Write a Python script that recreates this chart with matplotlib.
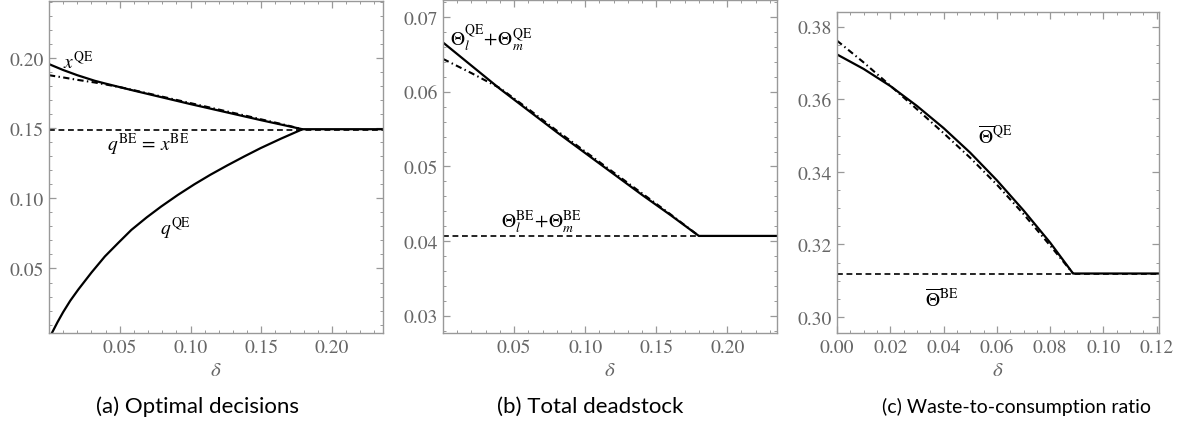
import matplotlib.pyplot as plt
from matplotlib.font_manager import FontProperties
from matplotlib.ticker import MultipleLocator, FormatStrFormatter

# ---- data ----
# (a) optimal decisions
a_delta_x = [0.0, 0.01, 0.02, 0.0324, 0.04, 0.05, 0.06, 0.07, 0.08, 0.09, 0.10, 0.11,
             0.12, 0.13, 0.14, 0.15, 0.16, 0.17, 0.179, 0.236]
a_xqe = [0.1957, 0.1915, 0.1878, 0.1838, 0.1818, 0.1793, 0.1768, 0.1744, 0.1720, 0.1696,
         0.1672, 0.1649, 0.1626, 0.1603, 0.1580, 0.1557, 0.1535, 0.1513, 0.1493, 0.1493]
a_delta_xd = [0.0, 0.01, 0.02, 0.0324, 0.04, 0.05, 0.06, 0.07, 0.08, 0.09, 0.10, 0.11,
              0.12, 0.13, 0.14, 0.15, 0.16, 0.17, 0.179]
a_xqe_approx = [0.1878, 0.1862, 0.1845, 0.1826, 0.1812, 0.1793, 0.1771, 0.1748, 0.1725,
                0.1702, 0.1679, 0.1656, 0.1633, 0.1610, 0.1587, 0.1563, 0.1540, 0.1516, 0.1493]
a_delta_q = [0.0, 0.0021, 0.006, 0.010, 0.015, 0.0207, 0.030, 0.0395, 0.049, 0.0582, 0.069,
             0.0793, 0.091, 0.1027, 0.114, 0.126, 0.138, 0.1495, 0.164, 0.1787]
a_qqe = [0.0000, 0.0041, 0.0117, 0.0189, 0.0270, 0.0350, 0.0471, 0.0586, 0.0683, 0.0775,
         0.0864, 0.0942, 0.1024, 0.1100, 0.1168, 0.1235, 0.1299, 0.1358, 0.1426, 0.1491]
a_qbe = 0.149

# (b) total deadstock
b_delta = [0.0, 0.02, 0.04, 0.06, 0.08, 0.10, 0.12, 0.14, 0.16, 0.18, 0.236]
b_qe = [0.0666, 0.0635, 0.0604, 0.0575, 0.0546, 0.0518, 0.0490, 0.0462, 0.0435, 0.0407, 0.0407]
b_delta_d = [0.0, 0.02, 0.04, 0.06, 0.08, 0.10, 0.12, 0.14, 0.16, 0.18]
b_qe_approx = [0.0644, 0.0625, 0.0605, 0.0577, 0.0548, 0.0520, 0.0492, 0.0464, 0.0436, 0.0407]
b_be = 0.0407

# (c) waste-to-consumption ratio
c_delta = [0.0, 0.01, 0.02, 0.03, 0.04, 0.05, 0.06, 0.07, 0.08, 0.0886, 0.1215]
c_qe = [0.3724, 0.3684, 0.3637, 0.3582, 0.3521, 0.3453, 0.3377, 0.3294, 0.3205, 0.3120, 0.3120]
c_delta_d = [0.0, 0.01, 0.02, 0.03, 0.04, 0.05, 0.06, 0.07, 0.08, 0.0886]
c_qe_approx = [0.3762, 0.3702, 0.3638, 0.3573, 0.3507, 0.3439, 0.3365, 0.3284, 0.3197, 0.3120]
c_be = 0.3120

captions = ['(a) Optimal decisions', '(b) Total deadstock', '(c) Waste-to-consumption ratio']

# STIX ships with matplotlib, a Times-like face for the tick numbers
plt.rcParams['font.family'] = 'STIXGeneral'
plt.rcParams['mathtext.fontset'] = 'stix'
gray = '#666666'
frame = '#999999'

fig = plt.figure(figsize=(11.78, 4.27), dpi=100)
ax_a = fig.add_axes([0.0416, 0.2178, 0.2835, 0.7775])
ax_b = fig.add_axes([0.3761, 0.2178, 0.2835, 0.7800])
ax_c = fig.add_axes([0.7105, 0.2178, 0.2733, 0.7518])

solid = dict(color='black', lw=1.6, solid_joinstyle='round')
dashed = dict(color='black', lw=1.2, linestyle=(0, (3.5, 2.2)))
dashdot = dict(color='black', lw=1.5, linestyle=(0, (3, 1.6, 0.7, 1.6)))

# (a)
ax_a.axhline(a_qbe, **dashed)
ax_a.plot(a_delta_xd, a_xqe_approx, **dashdot)
ax_a.plot(a_delta_x, a_xqe, **solid)
ax_a.plot(a_delta_q, a_qqe, **solid)
ax_a.set_xlim(0, 0.236)
ax_a.set_ylim(0.004, 0.2407)
ax_a.set_xticks([0.05, 0.10, 0.15, 0.20])
ax_a.xaxis.set_minor_locator(MultipleLocator(0.01))
ax_a.yaxis.set_major_locator(MultipleLocator(0.05))
ax_a.yaxis.set_minor_locator(MultipleLocator(0.01))
ax_a.text(0.010, 0.193, r'$x^{\mathrm{QE}}$', fontsize=14)
ax_a.text(0.0697, 0.139, r'$q^{\mathrm{BE}}\,=\,x^{\mathrm{BE}}$', fontsize=14, ha='center', va='center')
ax_a.text(0.0895, 0.079, r'$q^{\mathrm{QE}}$', fontsize=14, ha='center', va='center')

# (b)
ax_b.axhline(b_be, **dashed)
ax_b.plot(b_delta_d, b_qe_approx, **dashdot)
ax_b.plot(b_delta, b_qe, **solid)
ax_b.set_xlim(0, 0.235)
ax_b.set_ylim(0.0277, 0.0723)
ax_b.set_xticks([0.05, 0.10, 0.15, 0.20])
ax_b.xaxis.set_minor_locator(MultipleLocator(0.01))
ax_b.yaxis.set_major_locator(MultipleLocator(0.01))
ax_b.yaxis.set_minor_locator(MultipleLocator(0.002))
ax_b.text(0.0337, 0.0673, r'$\Theta_l^{\mathrm{QE}}\!+\!\Theta_m^{\mathrm{QE}}$', fontsize=14, ha='center', va='center')
ax_b.text(0.0694, 0.0427, r'$\Theta_l^{\mathrm{BE}}\!+\!\Theta_m^{\mathrm{BE}}$', fontsize=14, ha='center', va='center')

# (c)
ax_c.axhline(c_be, **dashed)
ax_c.plot(c_delta_d, c_qe_approx, **dashdot)
ax_c.plot(c_delta, c_qe, **solid)
ax_c.set_xlim(0, 0.1208)
ax_c.set_ylim(0.2956, 0.3841)
ax_c.xaxis.set_major_locator(MultipleLocator(0.02))
ax_c.xaxis.set_minor_locator(MultipleLocator(0.005))
ax_c.yaxis.set_major_locator(MultipleLocator(0.02))
ax_c.yaxis.set_minor_locator(MultipleLocator(0.005))
ax_c.text(0.0593, 0.350, r'$\overline{\Theta}^{\mathrm{QE}}$', fontsize=14, ha='center', va='center')
ax_c.text(0.0394, 0.3051, r'$\overline{\Theta}^{\mathrm{BE}}$', fontsize=14, ha='center', va='center')

for ax in (ax_a, ax_b, ax_c):
    for s in ax.spines.values():
        s.set_color(frame)
        s.set_linewidth(1.0)
    ax.tick_params(which='both', direction='in', top=True, right=True, color=frame,
                   labelcolor=gray, labelsize=14, pad=4)
    ax.tick_params(which='major', length=5, width=0.9)
    ax.tick_params(which='minor', length=2.5, width=0.7)
    ax.xaxis.set_major_formatter(FormatStrFormatter('%.2f'))
    ax.yaxis.set_major_formatter(FormatStrFormatter('%.2f'))
    ax.set_xlabel(r'$\delta$', color=gray, fontsize=15, labelpad=3)

for cx, cap, fs in zip([197, 590, 1017], captions, [16, 16, 14]):
    fig.text(cx / 1178, 1 - 407 / 427, cap, ha='center', va='center',
             fontproperties=FontProperties(family=['Lato', 'DejaVu Sans'], size=fs))

fig.savefig('out.png', dpi=100)
